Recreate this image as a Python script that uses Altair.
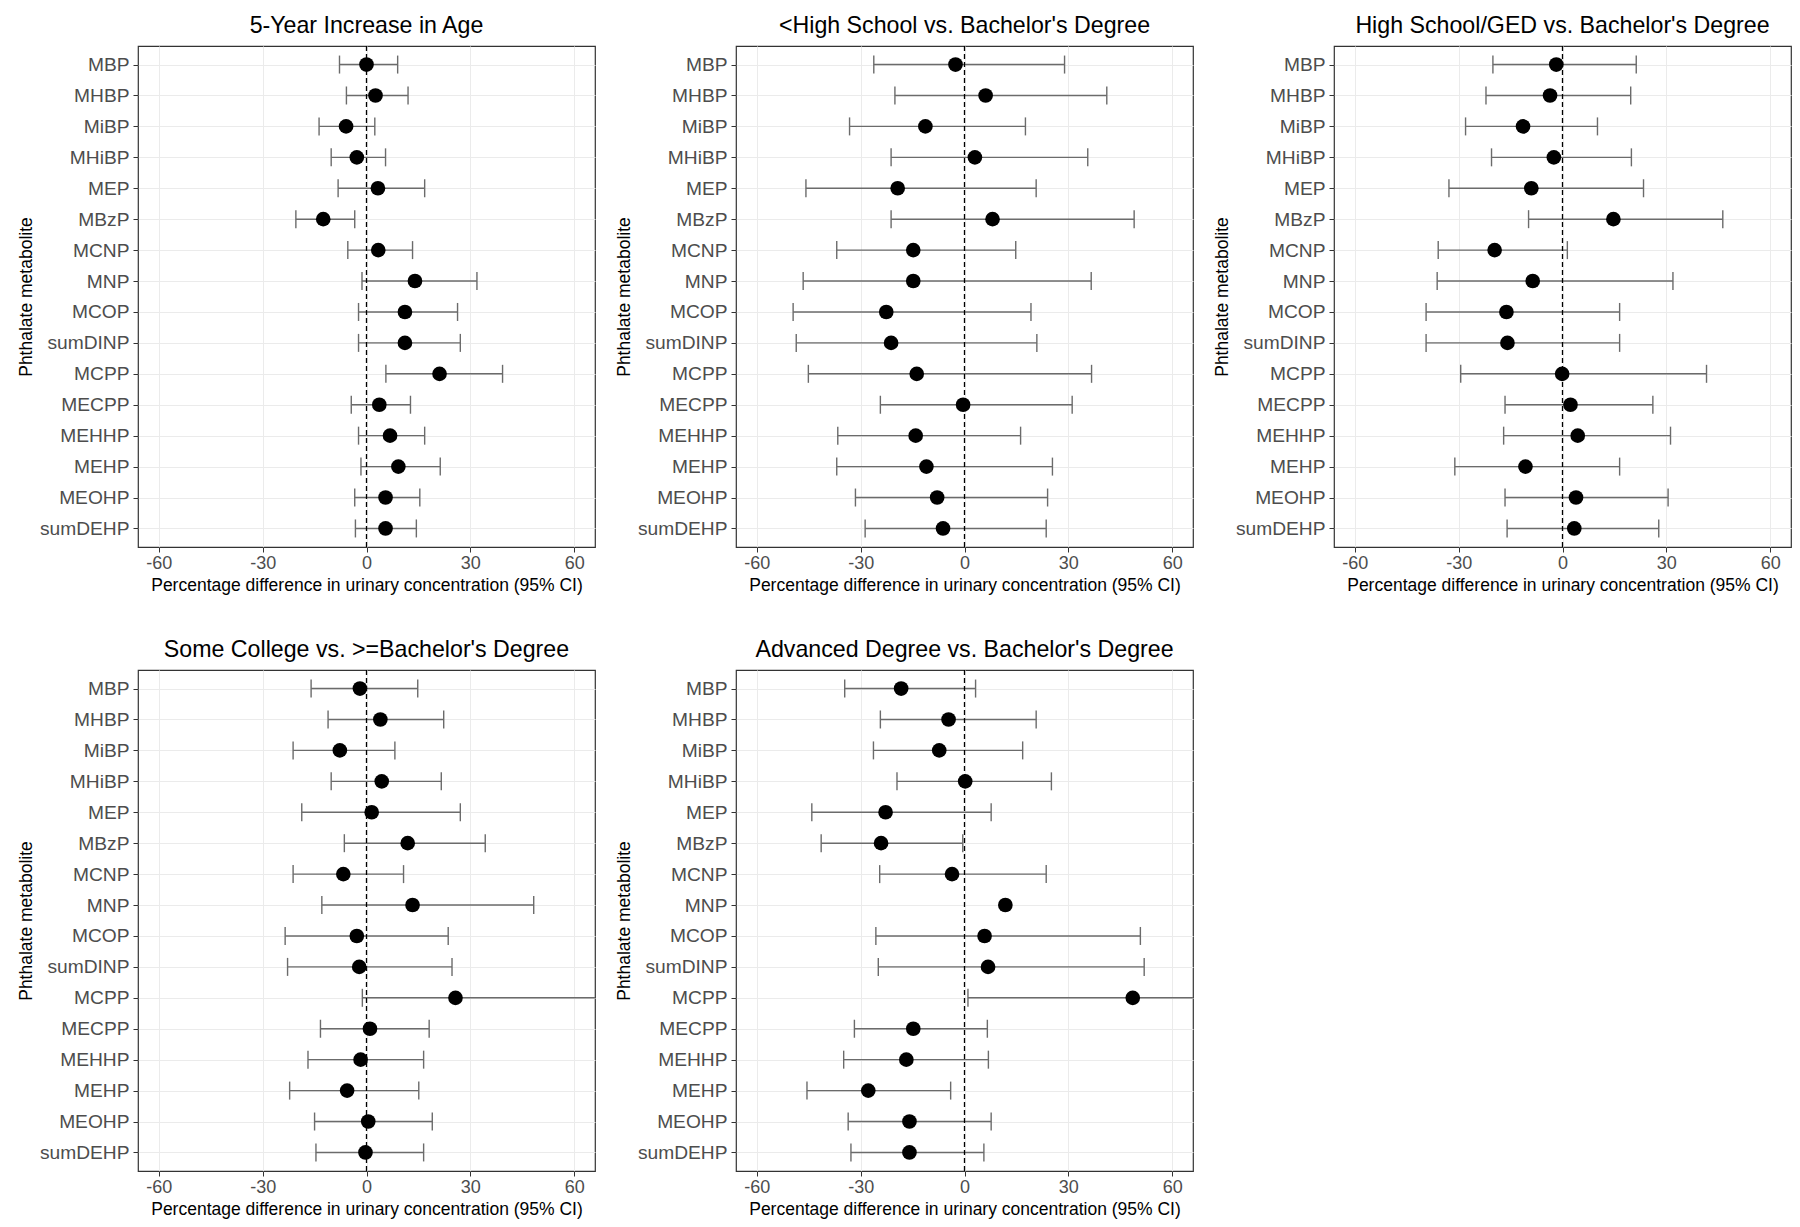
import altair as alt
import pandas as pd

METABOLITES = ["MBP", "MHBP", "MiBP", "MHiBP", "MEP", "MBzP", "MCNP", "MNP",
               "MCOP", "sumDINP", "MCPP", "MECPP", "MEHHP", "MEHP", "MEOHP", "sumDEHP"]

TITLES = [
    "5-Year Increase in Age",
    "<High School vs. Bachelor's Degree",
    "High School/GED vs. Bachelor's Degree",
    "Some College vs. >=Bachelor's Degree",
    "Advanced Degree vs. Bachelor's Degree",
]

AGE_EST = [0.0, 2.6, -5.9, -2.8, 3.3, -12.5, 3.4, 14.0, 11.1, 11.1, 21.1, 3.7, 6.8, 9.2, 5.5, 5.5]
AGE_LO = [-7.8, -5.8, -13.7, -10.2, -8.2, -20.4, -5.4, -1.3, -2.3, -2.3, 5.6, -4.4, -2.3, -1.6, -3.4, -3.2]
AGE_HI = [9.0, 12.0, 2.4, 5.5, 16.8, -3.4, 13.3, 31.9, 26.3, 27.1, 39.3, 12.7, 16.8, 21.3, 15.4, 14.4]

LTHS_EST = [-2.6, 6.1, -11.3, 3.0, -19.3, 8.1, -14.8, -14.8, -22.6, -21.2, -13.8, -0.4, -14.1, -11.0, -7.9, -6.2]
LTHS_LO = [-26.2, -20.1, -33.2, -21.2, -45.8, -21.2, -36.9, -46.6, -49.5, -48.6, -45.1, -24.3, -36.6, -36.9, -31.5, -28.7]
LTHS_HI = [28.9, 41.1, 17.6, 35.6, 20.7, 49.0, 14.8, 36.6, 19.2, 20.9, 36.7, 31.1, 16.2, 25.4, 24.0, 23.6]

HS_EST = [-1.8, -3.6, -11.4, -2.5, -9.0, 14.7, -19.6, -8.6, -16.2, -15.9, -0.1, 2.3, 4.4, -10.7, 3.9, 3.4]
HS_LO = [-20.1, -22.1, -28.0, -20.5, -32.8, -9.8, -35.9, -36.2, -39.4, -39.4, -29.4, -16.6, -17.0, -31.1, -16.6, -16.0]
HS_HI = [21.3, 19.7, 10.1, 19.9, 23.4, 46.3, 1.4, 31.9, 16.5, 16.5, 41.6, 26.1, 31.2, 16.5, 30.5, 27.8]

SC_EST = [-1.9, 4.0, -7.7, 4.4, 1.5, 11.9, -6.7, 13.3, -2.8, -2.1, 25.7, 1.0, -1.7, -5.6, 0.5, -0.3]
SC_LO = [-16.0, -11.1, -21.2, -10.2, -18.7, -6.4, -21.2, -12.9, -23.5, -22.8, -1.2, -13.3, -16.9, -22.2, -15.0, -14.6]
SC_HI = [14.8, 22.3, 8.2, 21.6, 27.1, 34.3, 10.7, 48.3, 23.6, 24.7, 75.0, 18.1, 16.5, 15.1, 19.0, 16.5]

ADV_EST = [-18.3, -4.6, -7.3, 0.2, -22.8, -24.1, -3.6, 11.8, 5.8, 6.8, 48.6, -14.8, -16.8, -27.8, -15.9, -15.9]
ADV_LO = [-34.6, -24.3, -26.3, -19.5, -44.1, -41.4, -24.5, None, -25.6, -24.9, 1.0, -31.8, -34.9, -45.5, -33.6, -32.8]
ADV_HI = [3.2, 20.7, 16.8, 25.1, 7.7, -0.5, 23.6, None, 50.8, 51.9, 110.0, 6.6, 6.9, -4.0, 7.7, 5.6]

X_TICKS = [-60, -30, 0, 30, 60]
X_DOMAIN = [-66, 66]
ZERO_LINE = [0]

FONT = "Liberation Sans"
W, H = 457, 501

X_TITLE = "Percentage difference in urinary concentration (95% CI)"
Y_TITLE = "Phthalate metabolite"


def panel(title, est, lo, hi):
    df = pd.DataFrame({"metabolite": METABOLITES, "est": est, "lo": lo, "hi": hi})
    xscale = alt.Scale(domain=X_DOMAIN, nice=False, zero=False)
    yenc = alt.Y("metabolite:N", sort=METABOLITES,
                 scale=alt.Scale(type="point", padding=0.6),
                 title=Y_TITLE,
                 axis=alt.Axis(labelPadding=4, tickSize=5, titlePadding=4, grid=True))
    xaxis = alt.Axis(values=X_TICKS, labelPadding=2, tickSize=5, titlePadding=4,
                     labelFlush=False, labelFontSize=18,
                     labelExpr="'' + datum.value")

    base = alt.Chart(df)
    bars = base.mark_rule(color="#6b6b6b", strokeWidth=1.4, clip=True).encode(
        x=alt.X("lo:Q", scale=xscale, axis=xaxis, title=X_TITLE),
        x2="hi:Q",
        y=yenc,
    )
    caps = base.transform_fold(["lo", "hi"], as_=["end", "val"]).mark_tick(
        color="#6b6b6b", thickness=1.4, size=18, clip=True, opacity=1
    ).encode(
        x=alt.X("val:Q", scale=xscale, axis=xaxis, title=X_TITLE),
        y=yenc,
    )
    zero = alt.Chart(pd.DataFrame({"zero": ZERO_LINE})).mark_rule(
        color="black", strokeDash=[5, 3], strokeWidth=1.3
    ).encode(x=alt.X("zero:Q", scale=xscale, axis=xaxis, title=X_TITLE))
    pts = base.mark_circle(color="black", size=215, opacity=1).encode(
        x=alt.X("est:Q", scale=xscale, axis=xaxis, title=X_TITLE),
        y=yenc,
    )
    return alt.layer(bars, caps, zero, pts).properties(
        width=W, height=H, title=alt.TitleParams(title)
    )


p1 = panel(TITLES[0], AGE_EST, AGE_LO, AGE_HI)
p2 = panel(TITLES[1], LTHS_EST, LTHS_LO, LTHS_HI)
p3 = panel(TITLES[2], HS_EST, HS_LO, HS_HI)
p4 = panel(TITLES[3], SC_EST, SC_LO, SC_HI)
p5 = panel(TITLES[4], ADV_EST, ADV_LO, ADV_HI)

row1 = alt.hconcat(p1, p2, p3, spacing=18)
row2 = alt.hconcat(p4, p5, spacing=18)

chart = alt.vconcat(row1, row2, spacing=42).properties(
    padding={"left": 8, "top": 5, "right": 0, "bottom": 5},
    background="white",
).configure_view(
    stroke="#333333", strokeWidth=1.2
).configure_axis(
    gridColor="#EBEBEB", gridWidth=1,
    labelFont=FONT, labelFontSize=19.2, labelColor="#4D4D4D",
    titleFont=FONT, titleFontSize=17.5, titleFontWeight="normal", titleColor="black",
    tickColor="#333333", domain=False,
).configure_title(
    font=FONT, fontSize=23.2, fontWeight="normal", color="black",
    anchor="middle", frame="group", offset=7,
)

chart.save("out.html", embed_options={"renderer": "svg", "actions": False})
